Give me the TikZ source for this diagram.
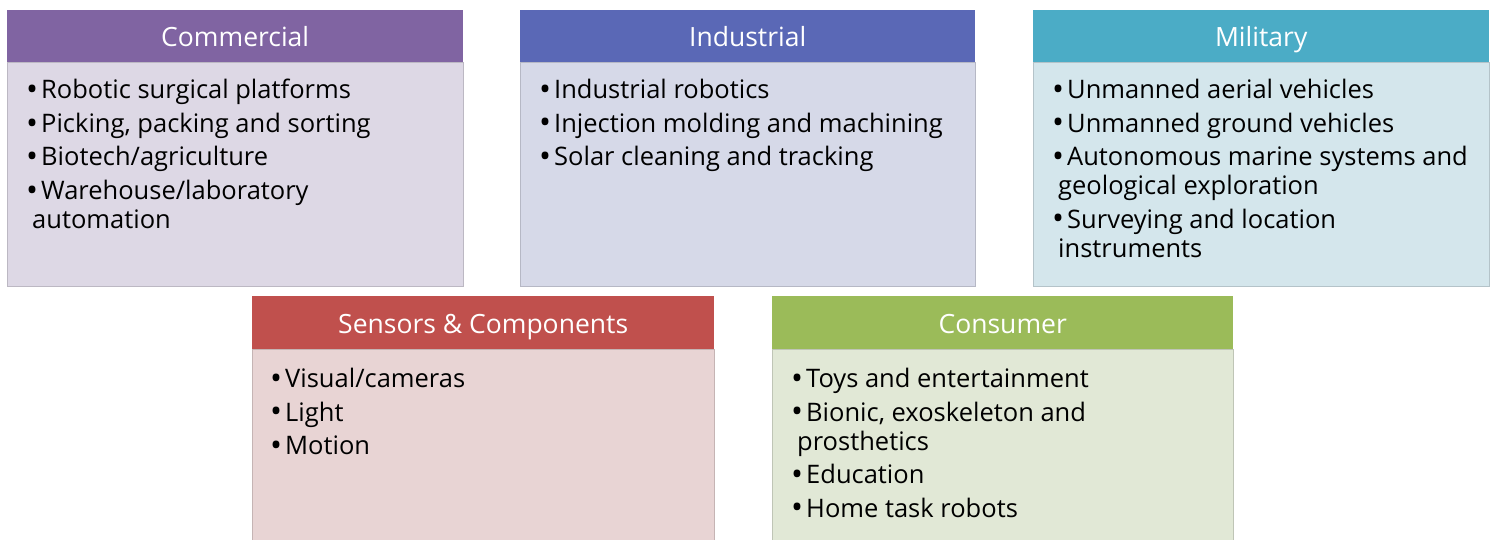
\documentclass[tikz,border=0pt]{standalone}
\usepackage{fontspec}
\setmainfont{Open Sans}
\definecolor{comH}{HTML}{8064A2}\definecolor{comB}{HTML}{DDD8E5}
\definecolor{indH}{HTML}{5A68B6}\definecolor{indB}{HTML}{D6D9E8}
\definecolor{milH}{HTML}{4BACC6}\definecolor{milB}{HTML}{D4E6EC}
\definecolor{senH}{HTML}{C0504D}\definecolor{senB}{HTML}{E8D4D4}
\definecolor{conH}{HTML}{9BBB59}\definecolor{conB}{HTML}{E1E8D6}
\tikzset{
  hdr/.style={fill=#1, draw=none, minimum height=52pt, text=white, font=\fontsize{26.5}{30}\selectfont, inner sep=0pt, text height=25pt, text depth=4pt},
  lst/.style={anchor=north west, align=left, inner sep=0pt, font=\fontsize{25.5}{29}\selectfont, text=black},
}
\newcommand{\bl}{\raisebox{-1.8pt}{\scalebox{1.25}{\textbullet}}\hspace{3pt}}
\newcommand{\wrp}{\hspace*{6pt}}
\begin{document}
\begin{tikzpicture}[x=1pt,y=-1pt]
\useasboundingbox (0,0) rectangle (1494,539);
% Commercial
\fill[comB, draw=comB!85!black] (7,62) rectangle (463,286);
\node[hdr=comH, minimum width=456pt, anchor=north west] (comh) at (7,10) {Commercial};
\node[lst] (coml) at (26,79) {\bl Robotic surgical platforms\\[4.5pt]\bl Picking, packing and sorting\\[4.5pt]\bl Biotech/agriculture\\[4.5pt]\bl Warehouse/laboratory\\\wrp automation};
% Industrial
\fill[indB, draw=indB!85!black] (520,62) rectangle (975,286);
\node[hdr=indH, minimum width=455pt, anchor=north west] (indh) at (520,10) {Industrial};
\node[lst] (indl) at (539,79) {\bl Industrial robotics\\[4.5pt]\bl Injection molding and machining\\[4.5pt]\bl Solar cleaning and tracking};
% Military
\fill[milB, draw=milB!85!black] (1033,62) rectangle (1489,286);
\node[hdr=milH, minimum width=456pt, anchor=north west] (milh) at (1033,10) {Military};
\node[lst] (mill) at (1052,79) {\bl Unmanned aerial vehicles\\[4.5pt]\bl Unmanned ground vehicles\\[4.5pt]\bl Autonomous marine systems and\\\wrp geological exploration\\[4.5pt]\bl Surveying and location\\\wrp instruments};
% Sensors
\fill[senB, draw=senB!85!black] (252,349) rectangle (714,545);
\node[hdr=senH, minimum width=462pt, minimum height=53pt, anchor=north west] (senh) at (252,296) {Sensors \& Components};
\node[lst] (senl) at (270,368) {\bl Visual/cameras\\[4.5pt]\bl Light\\[4.5pt]\bl Motion};
% Consumer
\fill[conB, draw=conB!85!black] (772,349) rectangle (1233,545);
\node[hdr=conH, minimum width=461pt, minimum height=53pt, anchor=north west] (conh) at (772,296) {Consumer};
\node[lst] (conl) at (791,368) {\bl Toys and entertainment\\[4.5pt]\bl Bionic, exoskeleton and\\\wrp prosthetics\\[4.5pt]\bl Education\\[4.5pt]\bl Home task robots};
\end{tikzpicture}
\end{document}
